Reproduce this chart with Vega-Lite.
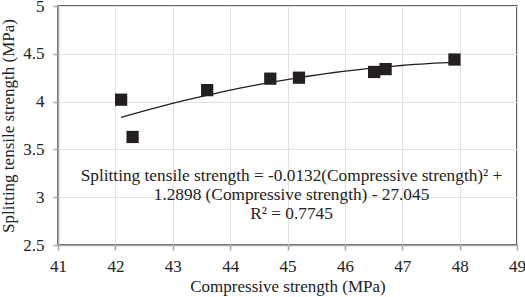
{
  "$schema": "https://vega.github.io/schema/vega-lite/v6.json",
  "autosize": {"type": "none"},
  "width": 459,
  "height": 239,
  "padding": {"left": 58, "top": 6, "right": 8, "bottom": 52},
  "background": "white",
  "config": {
    "font": "Liberation Serif",
    "view": {"stroke": "#333333", "strokeWidth": 1.5},
    "text": {"font": "Liberation Serif"},
    "axis": {
      "labelFont": "Liberation Serif",
      "titleFont": "Liberation Serif",
      "labelFontSize": 17,
      "titleFontSize": 17,
      "titleFontWeight": "normal",
      "labelColor": "#222222",
      "titleColor": "#222222",
      "domainColor": "#a6a6a6",
      "domainWidth": 1.5,
      "tickColor": "#a6a6a6",
      "tickWidth": 1.5,
      "tickSize": 5,
      "labelOverlap": false,
      "labelFlush": false,
      "gridColor": "#e2e2e2",
      "gridWidth": 1
    }
  },
  "datasets": {
    "points": [
      {"cs": 42.1, "sts": 4.02},
      {"cs": 42.3, "sts": 3.63},
      {"cs": 43.6, "sts": 4.12},
      {"cs": 44.7, "sts": 4.24},
      {"cs": 45.2, "sts": 4.25},
      {"cs": 46.51, "sts": 4.31},
      {"cs": 46.71, "sts": 4.34},
      {"cs": 47.91, "sts": 4.44}
    ],
    "labels": [
      {"x": 45.07, "y": 3.225, "t": "Splitting tensile strength = -0.0132(Compressive strength)² +"},
      {"x": 45.07, "y": 3.025, "t": "1.2898 (Compressive strength) - 27.045"},
      {"x": 45.07, "y": 2.826, "t": "R² = 0.7745"}
    ]
  },
  "layer": [
    {
      "data": {"name": "points"},
      "transform": [{"regression": "sts", "on": "cs", "method": "poly", "order": 2}],
      "mark": {"type": "line", "color": "#231f20", "strokeWidth": 1.3},
      "encoding": {
        "x": {
          "field": "cs", "type": "quantitative",
          "scale": {"domain": [41, 49], "nice": false, "zero": false},
          "axis": {"title": "Compressive strength (MPa)", "values": [41,42,43,44,45,46,47,48,49], "format": "d", "labelPadding": 8, "titlePadding": 4}
        },
        "y": {
          "field": "sts", "type": "quantitative",
          "scale": {"domain": [2.5, 5], "nice": false, "zero": false},
          "axis": {"title": "Splitting tensile strength (MPa)", "values": [2.5,3,3.5,4,4.5,5], "labelPadding": 9, "titlePadding": 5, "format": ".1~f"}
        }
      }
    },
    {
      "data": {"name": "points"},
      "mark": {"type": "square", "size": 150, "color": "#231f20", "opacity": 1, "filled": true},
      "encoding": {
        "x": {"field": "cs", "type": "quantitative"},
        "y": {"field": "sts", "type": "quantitative"}
      }
    },
    {
      "data": {"name": "labels"},
      "mark": {"type": "text", "font": "Liberation Serif", "fontSize": 17.3, "color": "#222222", "align": "center", "baseline": "middle"},
      "encoding": {
        "x": {"field": "x", "type": "quantitative"},
        "y": {"field": "y", "type": "quantitative"},
        "text": {"field": "t"}
      }
    }
  ]
}
